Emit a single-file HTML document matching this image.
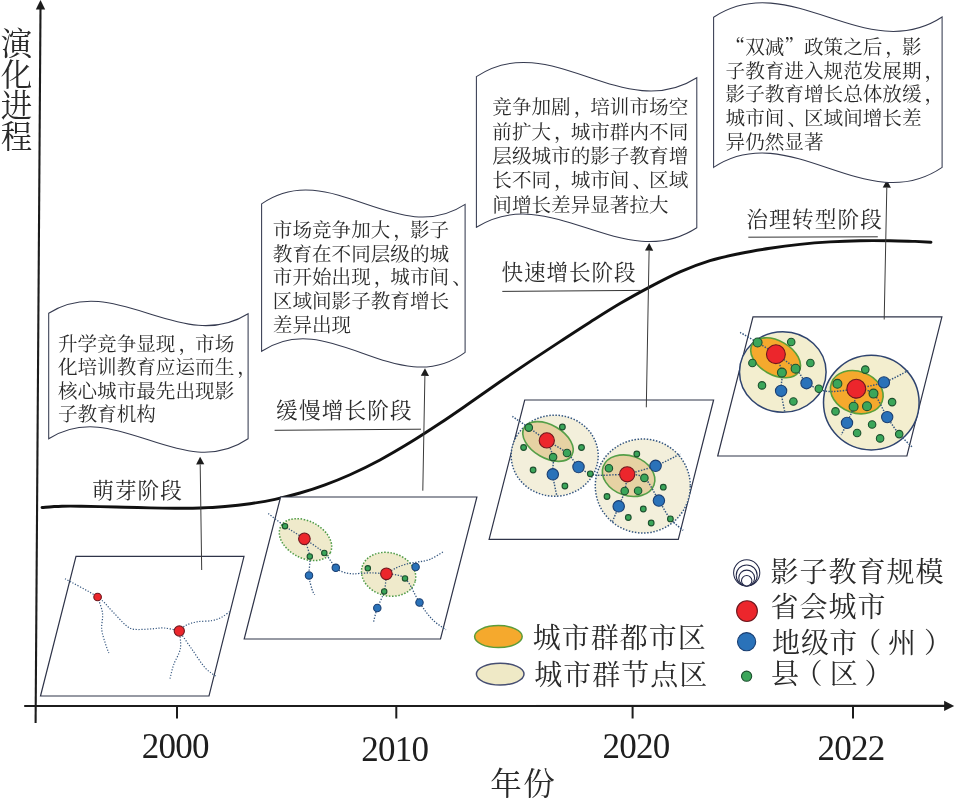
<!DOCTYPE html>
<html lang="zh-CN">
<head>
<meta charset="utf-8">
<title>影子教育演化进程</title>
<style>
html,body{margin:0;padding:0;background:#fff;}
body{width:955px;height:805px;overflow:hidden;}
svg{display:block;}
</style>
</head>
<body>
<svg width="955" height="805" viewBox="0 0 955 805">
<rect width="955" height="805" fill="#fff"/>
<line x1="40.5" y1="8" x2="35.6" y2="723" stroke="#1c1c1c" stroke-width="2.1"/>
<polygon points="40.5,0 35.8,9.5 45.2,9.5" fill="#1c1c1c"/>
<line x1="24.2" y1="706" x2="945" y2="705.9" stroke="#1c1c1c" stroke-width="2.1"/>
<polygon points="954.2,705.9 944.1,700.8 944.1,711" fill="#1c1c1c"/>
<line x1="177" y1="706" x2="177" y2="718.5" stroke="#1c1c1c" stroke-width="2"/>
<line x1="396.3" y1="706" x2="396.3" y2="718.5" stroke="#1c1c1c" stroke-width="2"/>
<line x1="632.6" y1="706" x2="632.6" y2="718.5" stroke="#1c1c1c" stroke-width="2"/>
<line x1="853" y1="706" x2="853" y2="718.5" stroke="#1c1c1c" stroke-width="2"/>
<path d="M42.0,507.5 C43.7,507.4 48.7,506.9 52.0,506.7 C55.3,506.5 57.3,506.3 62.0,506.2 C66.7,506.1 73.7,506.1 80.0,506.2 C86.3,506.3 92.5,506.4 100.0,506.6 C107.5,506.8 116.7,507.0 125.0,507.2 C133.3,507.4 141.7,507.7 150.0,507.9 C158.3,508.1 166.7,508.2 175.0,508.2 C183.3,508.2 191.7,508.3 200.0,508.0 C208.3,507.7 216.7,507.2 225.0,506.5 C233.3,505.8 241.7,504.9 250.0,503.7 C258.3,502.5 266.7,501.1 275.0,499.3 C283.3,497.5 291.7,495.4 300.0,493.0 C308.3,490.6 316.7,487.9 325.0,484.8 C333.3,481.8 340.8,478.8 350.0,474.7 C359.2,470.6 370.0,465.4 380.0,460.0 C390.0,454.6 400.0,448.7 410.0,442.6 C420.0,436.5 430.0,429.9 440.0,423.3 C450.0,416.7 460.0,409.7 470.0,402.8 C480.0,395.9 490.0,388.7 500.0,381.8 C510.0,374.9 520.0,368.1 530.0,361.4 C540.0,354.7 550.0,348.1 560.0,341.6 C570.0,335.1 580.0,328.5 590.0,322.2 C600.0,315.9 610.0,309.5 620.0,303.6 C630.0,297.7 640.0,292.2 650.0,286.9 C660.0,281.6 670.0,276.3 680.0,271.9 C690.0,267.5 700.0,263.8 710.0,260.7 C720.0,257.6 730.0,255.6 740.0,253.5 C750.0,251.4 760.0,249.8 770.0,248.3 C780.0,246.8 790.0,245.5 800.0,244.4 C810.0,243.3 820.0,242.5 830.0,241.9 C840.0,241.3 850.0,240.9 860.0,240.7 C870.0,240.5 880.8,240.6 890.0,240.7 C899.2,240.8 908.2,241.2 915.0,241.4 C921.8,241.7 928.3,242.1 931.0,242.2" fill="none" stroke="#111" stroke-width="2.9" stroke-linecap="round"/>
<polygon points="76.0,556.4 244.0,556.4 209.0,696.0 40.5,696.0" fill="#fff" stroke="#2f3449" stroke-width="1.2"/>
<polygon points="280.6,497.0 476.9,497.0 440.5,639.0 244.2,639.0" fill="#fff" stroke="#2f3449" stroke-width="1.2"/>
<polygon points="524.7,400.0 713.6,400.0 678.3,539.4 489.1,539.4" fill="#fff" stroke="#2f3449" stroke-width="1.2"/>
<polygon points="753.0,316.8 941.9,316.8 906.9,456.0 717.7,456.0" fill="#fff" stroke="#2f3449" stroke-width="1.2"/>
<line x1="201.7" y1="570.0" x2="200.2" y2="464.4" stroke="#3a3a3a" stroke-width="1.0"/>
<polygon points="200.1,456.8 204.3,464.3 196.1,464.5" fill="#1c1c1c"/>
<line x1="422.8" y1="490.7" x2="424.9" y2="375.9" stroke="#3a3a3a" stroke-width="1.0"/>
<polygon points="425.0,368.3 429.0,376.0 420.8,375.8" fill="#1c1c1c"/>
<line x1="646.3" y1="407.3" x2="649.1" y2="250.7" stroke="#3a3a3a" stroke-width="1.0"/>
<polygon points="649.2,243.1 653.2,250.8 645.0,250.6" fill="#1c1c1c"/>
<line x1="884.2" y1="319.5" x2="886.8" y2="187.6" stroke="#3a3a3a" stroke-width="1.0"/>
<polygon points="886.9,180.0 890.9,187.7 882.7,187.5" fill="#1c1c1c"/>
<path d="M48.7,313.2 C115.2,271.6 181.6,355.3 248.1,313.7 L248.1,438.8 C181.6,484.2 115.2,396.2 48.7,438.8 Z" fill="#fff" stroke="#363b50" stroke-width="1.05"/>
<path d="M261.6,203.9 C329.4,156.4 397.3,249.4 465.1,204.4 L465.1,352.3 C397.3,402.3 329.4,305.7 261.6,351.3 Z" fill="#fff" stroke="#363b50" stroke-width="1.05"/>
<path d="M476.4,76.6 C549.9,27.7 623.3,124.9 696.8,77.8 L696.8,227.7 C623.3,275.4 549.9,180.8 476.4,227.3 Z" fill="#fff" stroke="#363b50" stroke-width="1.05"/>
<path d="M713.6,17.2 C789.8,-32.7 865.9,66.9 942.1,17.0 L942.1,167.4 C865.9,219.5 789.8,116.9 713.6,167.4 Z" fill="#fff" stroke="#363b50" stroke-width="1.05"/>
<path d="M65.0,578.8 C70.4,581.8 89.8,591.6 97.6,597.0 C105.4,602.4 107.3,606.3 112.0,611.0 C116.7,615.7 122.1,622.2 125.8,625.2 C129.5,628.2 130.0,628.7 134.0,629.3 C138.0,629.9 145.0,629.2 150.0,629.0 C155.0,628.8 159.1,627.7 164.0,628.0 C168.9,628.3 176.8,630.5 179.3,631.0" fill="none" stroke="#34567f" stroke-width="1.2" stroke-dasharray="1.20 1.65"/>
<path d="M179.3,631.0 C180.4,630.0 183.1,626.8 186.0,625.3 C188.9,623.8 192.7,622.6 197.0,621.8 C201.3,621.0 207.8,621.4 212.0,620.6 C216.2,619.8 219.1,618.5 222.0,617.0 C224.9,615.5 228.3,612.5 229.6,611.6" fill="none" stroke="#34567f" stroke-width="1.2" stroke-dasharray="1.20 1.65"/>
<path d="M97.6,597.0 C98.4,599.7 101.8,607.6 102.5,613.0 C103.2,618.4 101.2,624.3 101.7,629.3 C102.2,634.3 104.0,639.0 105.2,643.0 C106.4,647.0 108.2,651.3 108.8,653.0" fill="none" stroke="#34567f" stroke-width="1.2" stroke-dasharray="1.20 1.65"/>
<path d="M179.3,631.0 C179.5,633.9 181.4,642.9 180.4,648.5 C179.4,654.1 175.3,659.9 173.6,664.9 C171.9,669.9 170.6,676.3 170.0,678.6" fill="none" stroke="#34567f" stroke-width="1.2" stroke-dasharray="1.20 1.65"/>
<path d="M179.3,631.0 C181.3,633.9 187.1,642.4 191.4,648.5 C195.7,654.6 200.9,663.0 205.0,667.6 C209.1,672.2 214.2,674.9 216.0,676.4" fill="none" stroke="#34567f" stroke-width="1.2" stroke-dasharray="1.20 1.65"/>
<circle cx="97.6" cy="597.0" r="3.8" fill="#ec262c" stroke="#6e171d" stroke-width="1.1"/>
<circle cx="179.3" cy="631.0" r="5.1" fill="#ec262c" stroke="#6e171d" stroke-width="1.1"/>
<ellipse cx="305.5" cy="539.6" rx="28" ry="18.5" transform="rotate(28 305.5 539.6)" fill="#efeacb" stroke="#4c9a45" stroke-width="1.5" stroke-dasharray="1.5 1.6"/>
<ellipse cx="388.6" cy="574.3" rx="27.5" ry="21.5" transform="rotate(15 388.6 574.3)" fill="#efeacb" stroke="#4c9a45" stroke-width="1.5" stroke-dasharray="1.5 1.6"/>
<path d="M268.3,513.6 C271.1,515.7 279.0,522.0 285.0,526.2 C291.0,530.4 297.8,534.3 304.4,538.8 C310.9,543.3 319.1,548.2 324.3,553.0 C329.5,557.8 332.6,564.6 335.8,567.8 C339.1,571.0 341.1,571.3 343.8,572.3 C346.5,573.3 349.3,573.6 352.1,573.8 C354.9,574.0 357.2,573.5 360.5,573.4 C363.8,573.2 367.7,572.8 372.0,572.9 C376.3,573.0 384.0,573.6 386.4,573.8" fill="none" stroke="#34567f" stroke-width="1.3" stroke-dasharray="1.30 1.55"/>
<path d="M386.4,573.8 C388.0,572.8 392.6,569.6 396.0,568.0 C399.4,566.4 402.9,565.0 406.6,564.0 C410.3,563.0 414.1,562.8 418.0,562.0 C421.9,561.2 425.8,561.0 430.0,559.3 C434.2,557.6 441.0,553.1 443.2,551.9" fill="none" stroke="#34567f" stroke-width="1.3" stroke-dasharray="1.30 1.55"/>
<path d="M304.4,538.8 C305.3,541.8 309.0,550.4 309.8,556.5 C310.6,562.6 308.6,569.9 309.0,575.4 C309.4,580.9 311.1,586.1 312.0,589.3 C312.9,592.5 314.2,593.9 314.7,594.8" fill="none" stroke="#34567f" stroke-width="1.3" stroke-dasharray="1.30 1.55"/>
<path d="M386.4,573.8 C386.0,576.8 385.7,585.8 384.2,591.5 C382.7,597.2 379.1,602.9 377.3,608.0 C375.5,613.1 374.1,619.8 373.5,622.2" fill="none" stroke="#34567f" stroke-width="1.3" stroke-dasharray="1.30 1.55"/>
<path d="M386.4,573.8 C389.5,574.6 399.5,573.6 405.0,578.4 C410.5,583.2 414.9,595.7 419.5,602.5 C424.1,609.3 427.9,614.9 432.3,619.4 C436.7,623.9 443.7,628.1 446.0,629.8" fill="none" stroke="#34567f" stroke-width="1.3" stroke-dasharray="1.30 1.55"/>
<circle cx="285.0" cy="526.2" r="2.7" fill="#3ba65a" stroke="#1d502e" stroke-width="1.1"/>
<circle cx="309.8" cy="556.5" r="2.7" fill="#3ba65a" stroke="#1d502e" stroke-width="1.1"/>
<circle cx="324.3" cy="553.0" r="2.7" fill="#3ba65a" stroke="#1d502e" stroke-width="1.1"/>
<circle cx="367.8" cy="568.3" r="2.7" fill="#3ba65a" stroke="#1d502e" stroke-width="1.1"/>
<circle cx="405.0" cy="578.4" r="2.7" fill="#3ba65a" stroke="#1d502e" stroke-width="1.1"/>
<circle cx="384.2" cy="591.5" r="2.7" fill="#3ba65a" stroke="#1d502e" stroke-width="1.1"/>
<circle cx="309.0" cy="575.4" r="3.7" fill="#2a72b9" stroke="#1b3f72" stroke-width="1.1"/>
<circle cx="335.8" cy="567.8" r="3.7" fill="#2a72b9" stroke="#1b3f72" stroke-width="1.1"/>
<circle cx="415.6" cy="567.0" r="3.7" fill="#2a72b9" stroke="#1b3f72" stroke-width="1.1"/>
<circle cx="419.5" cy="602.5" r="3.7" fill="#2a72b9" stroke="#1b3f72" stroke-width="1.1"/>
<circle cx="377.3" cy="608.0" r="3.7" fill="#2a72b9" stroke="#1b3f72" stroke-width="1.1"/>
<circle cx="304.4" cy="538.8" r="5.8" fill="#ec262c" stroke="#6e171d" stroke-width="1.1"/>
<circle cx="386.4" cy="573.8" r="5.8" fill="#ec262c" stroke="#6e171d" stroke-width="1.1"/>
<ellipse cx="554.7" cy="455.7" rx="43.5" ry="40.5" fill="#f3efdb" stroke="#34567f" stroke-width="1.5" stroke-dasharray="1.5 1.6"/>
<ellipse cx="642.8" cy="486" rx="47.5" ry="47" fill="#f3efdb" stroke="#34567f" stroke-width="1.5" stroke-dasharray="1.5 1.6"/>
<ellipse cx="548" cy="441.5" rx="27.5" ry="16.5" transform="rotate(30 548 441.5)" fill="#e6d2a3" stroke="#559f48" stroke-width="1.6"/>
<ellipse cx="628.6" cy="475.7" rx="27" ry="19.8" transform="rotate(20 628.6 475.7)" fill="#e6d2a3" stroke="#559f48" stroke-width="1.6"/>
<path d="M512.4,416.4 C515.1,418.3 523.1,423.6 528.8,427.6 C534.5,431.6 540.4,436.2 546.8,440.4 C553.2,444.6 561.7,448.6 567.0,453.0 C572.3,457.4 574.6,463.5 578.5,467.0 C582.4,470.5 586.7,472.4 590.3,473.8 C593.9,475.2 596.4,475.1 600.0,475.3 C603.6,475.5 607.5,475.1 612.0,474.9 C616.5,474.7 624.7,474.4 627.2,474.3" fill="none" stroke="#34567f" stroke-width="1.45" stroke-dasharray="1.45 1.40"/>
<path d="M627.2,474.3 C631.9,472.9 646.7,469.2 655.6,465.8 C664.5,462.4 676.4,455.8 680.5,453.8" fill="none" stroke="#34567f" stroke-width="1.45" stroke-dasharray="1.45 1.40"/>
<path d="M546.8,440.4 C547.8,443.2 552.1,451.5 553.1,457.1 C554.1,462.8 552.2,467.8 552.8,474.3 C553.4,480.8 556.2,492.6 556.9,496.2" fill="none" stroke="#34567f" stroke-width="1.45" stroke-dasharray="1.45 1.40"/>
<path d="M627.2,474.3 C626.8,477.1 626.1,485.7 624.7,491.0 C623.3,496.3 620.8,501.1 618.7,506.3 C616.6,511.5 613.3,519.6 612.2,522.2" fill="none" stroke="#34567f" stroke-width="1.45" stroke-dasharray="1.45 1.40"/>
<path d="M627.2,474.3 C630.1,474.9 639.1,473.5 644.4,477.9 C649.7,482.3 654.6,493.8 658.9,500.6 C663.2,507.4 666.3,513.9 670.4,518.9 C674.5,523.9 681.1,528.5 683.2,530.4" fill="none" stroke="#34567f" stroke-width="1.45" stroke-dasharray="1.45 1.40"/>
<circle cx="528.8" cy="427.6" r="3.75" fill="#3ba65a" stroke="#1d502e" stroke-width="1.1"/>
<circle cx="553.1" cy="457.1" r="3.75" fill="#3ba65a" stroke="#1d502e" stroke-width="1.1"/>
<circle cx="567.0" cy="453.0" r="3.75" fill="#3ba65a" stroke="#1d502e" stroke-width="1.1"/>
<circle cx="608.9" cy="468.3" r="3.75" fill="#3ba65a" stroke="#1d502e" stroke-width="1.1"/>
<circle cx="644.4" cy="477.9" r="3.75" fill="#3ba65a" stroke="#1d502e" stroke-width="1.1"/>
<circle cx="624.7" cy="491.0" r="3.75" fill="#3ba65a" stroke="#1d502e" stroke-width="1.1"/>
<circle cx="638.1" cy="490.7" r="3.75" fill="#3ba65a" stroke="#1d502e" stroke-width="1.1"/>
<circle cx="562.4" cy="427.0" r="2.85" fill="#3ba65a" stroke="#1d502e" stroke-width="1.1"/>
<circle cx="523.6" cy="447.5" r="2.85" fill="#3ba65a" stroke="#1d502e" stroke-width="1.1"/>
<circle cx="581.5" cy="447.5" r="2.85" fill="#3ba65a" stroke="#1d502e" stroke-width="1.1"/>
<circle cx="533.1" cy="470.0" r="2.85" fill="#3ba65a" stroke="#1d502e" stroke-width="1.1"/>
<circle cx="564.9" cy="486.0" r="2.85" fill="#3ba65a" stroke="#1d502e" stroke-width="1.1"/>
<circle cx="590.3" cy="473.8" r="2.85" fill="#3ba65a" stroke="#1d502e" stroke-width="1.1"/>
<circle cx="636.8" cy="454.0" r="2.85" fill="#3ba65a" stroke="#1d502e" stroke-width="1.1"/>
<circle cx="663.3" cy="487.2" r="2.85" fill="#3ba65a" stroke="#1d502e" stroke-width="1.1"/>
<circle cx="607.0" cy="496.5" r="2.85" fill="#3ba65a" stroke="#1d502e" stroke-width="1.1"/>
<circle cx="643.3" cy="509.0" r="2.85" fill="#3ba65a" stroke="#1d502e" stroke-width="1.1"/>
<circle cx="628.3" cy="517.5" r="2.85" fill="#3ba65a" stroke="#1d502e" stroke-width="1.1"/>
<circle cx="651.2" cy="523.0" r="2.85" fill="#3ba65a" stroke="#1d502e" stroke-width="1.1"/>
<circle cx="670.4" cy="518.9" r="2.85" fill="#3ba65a" stroke="#1d502e" stroke-width="1.1"/>
<circle cx="552.8" cy="474.3" r="5.7" fill="#2a72b9" stroke="#1b3f72" stroke-width="1.1"/>
<circle cx="578.5" cy="467.0" r="5.7" fill="#2a72b9" stroke="#1b3f72" stroke-width="1.1"/>
<circle cx="655.6" cy="465.8" r="5.7" fill="#2a72b9" stroke="#1b3f72" stroke-width="1.1"/>
<circle cx="658.9" cy="500.6" r="5.7" fill="#2a72b9" stroke="#1b3f72" stroke-width="1.1"/>
<circle cx="618.7" cy="506.3" r="5.7" fill="#2a72b9" stroke="#1b3f72" stroke-width="1.1"/>
<circle cx="546.8" cy="440.4" r="7.6" fill="#ec262c" stroke="#6e171d" stroke-width="1.1"/>
<circle cx="627.2" cy="474.3" r="7.6" fill="#ec262c" stroke="#6e171d" stroke-width="1.1"/>
<ellipse cx="782.8" cy="372" rx="43.3" ry="40.3" fill="#f3eecf" stroke="#2f446f" stroke-width="1.5"/>
<ellipse cx="871.3" cy="402.6" rx="47.8" ry="47.3" fill="#f3eecf" stroke="#2f446f" stroke-width="1.5"/>
<ellipse cx="775.6" cy="357.8" rx="27" ry="17" transform="rotate(30 775.6 357.8)" fill="#f5a92d" stroke="#5a9f3a" stroke-width="1.6"/>
<ellipse cx="856.8" cy="392.2" rx="27" ry="20.8" transform="rotate(20 856.8 392.2)" fill="#f5a92d" stroke="#5a9f3a" stroke-width="1.6"/>
<path d="M740.1,332.4 C743.0,334.1 751.6,338.9 757.6,342.5 C763.6,346.1 769.6,349.8 775.9,354.2 C782.2,358.6 790.5,363.9 795.6,368.7 C800.7,373.5 802.6,379.9 806.5,383.2 C810.4,386.5 815.5,387.3 818.8,388.7 C822.1,390.1 823.3,390.9 826.5,391.3 C829.7,391.7 833.0,391.6 838.0,391.2 C843.0,390.8 853.2,389.1 856.3,388.7" fill="none" stroke="#34567f" stroke-width="1.45" stroke-dasharray="1.45 1.40"/>
<path d="M856.3,388.7 C860.9,387.6 875.2,385.4 883.9,382.4 C892.5,379.4 904.2,372.6 908.2,370.6" fill="none" stroke="#34567f" stroke-width="1.45" stroke-dasharray="1.45 1.40"/>
<path d="M775.9,354.2 C776.9,357.3 781.0,366.5 781.9,372.6 C782.8,378.7 780.6,384.4 781.1,390.9 C781.6,397.4 784.1,408.2 784.7,411.6" fill="none" stroke="#34567f" stroke-width="1.45" stroke-dasharray="1.45 1.40"/>
<path d="M856.3,388.7 C855.8,391.7 855.1,401.0 853.6,406.7 C852.1,412.4 849.0,418.2 847.0,422.9 C845.0,427.6 842.2,432.9 841.3,434.9" fill="none" stroke="#34567f" stroke-width="1.45" stroke-dasharray="1.45 1.40"/>
<path d="M856.3,388.7 C859.2,389.5 868.4,388.9 873.5,393.6 C878.6,398.3 882.9,410.4 887.2,417.1 C891.5,423.9 895.0,429.1 899.2,434.1 C903.4,439.1 910.1,445.0 912.3,447.2" fill="none" stroke="#34567f" stroke-width="1.45" stroke-dasharray="1.45 1.40"/>
<circle cx="757.6" cy="342.5" r="4.45" fill="#3ba65a" stroke="#1d502e" stroke-width="1.1"/>
<circle cx="781.9" cy="372.6" r="4.45" fill="#3ba65a" stroke="#1d502e" stroke-width="1.1"/>
<circle cx="795.6" cy="368.7" r="4.45" fill="#3ba65a" stroke="#1d502e" stroke-width="1.1"/>
<circle cx="837.4" cy="383.8" r="4.45" fill="#3ba65a" stroke="#1d502e" stroke-width="1.1"/>
<circle cx="873.5" cy="393.6" r="4.45" fill="#3ba65a" stroke="#1d502e" stroke-width="1.1"/>
<circle cx="853.6" cy="406.7" r="4.45" fill="#3ba65a" stroke="#1d502e" stroke-width="1.1"/>
<circle cx="867.0" cy="406.2" r="4.45" fill="#3ba65a" stroke="#1d502e" stroke-width="1.1"/>
<circle cx="791.2" cy="342.0" r="3.75" fill="#3ba65a" stroke="#1d502e" stroke-width="1.1"/>
<circle cx="752.4" cy="363.0" r="3.75" fill="#3ba65a" stroke="#1d502e" stroke-width="1.1"/>
<circle cx="810.4" cy="363.0" r="3.75" fill="#3ba65a" stroke="#1d502e" stroke-width="1.1"/>
<circle cx="762.0" cy="385.4" r="3.75" fill="#3ba65a" stroke="#1d502e" stroke-width="1.1"/>
<circle cx="793.4" cy="401.5" r="3.75" fill="#3ba65a" stroke="#1d502e" stroke-width="1.1"/>
<circle cx="818.8" cy="388.7" r="3.75" fill="#3ba65a" stroke="#1d502e" stroke-width="1.1"/>
<circle cx="865.3" cy="369.6" r="3.75" fill="#3ba65a" stroke="#1d502e" stroke-width="1.1"/>
<circle cx="892.1" cy="402.1" r="3.75" fill="#3ba65a" stroke="#1d502e" stroke-width="1.1"/>
<circle cx="835.5" cy="411.4" r="3.75" fill="#3ba65a" stroke="#1d502e" stroke-width="1.1"/>
<circle cx="872.1" cy="424.5" r="3.75" fill="#3ba65a" stroke="#1d502e" stroke-width="1.1"/>
<circle cx="857.1" cy="433.0" r="3.75" fill="#3ba65a" stroke="#1d502e" stroke-width="1.1"/>
<circle cx="880.1" cy="438.4" r="3.75" fill="#3ba65a" stroke="#1d502e" stroke-width="1.1"/>
<circle cx="899.2" cy="434.1" r="3.75" fill="#3ba65a" stroke="#1d502e" stroke-width="1.1"/>
<circle cx="781.1" cy="390.9" r="5.65" fill="#2a72b9" stroke="#1b3f72" stroke-width="1.1"/>
<circle cx="806.5" cy="383.2" r="5.65" fill="#2a72b9" stroke="#1b3f72" stroke-width="1.1"/>
<circle cx="883.9" cy="382.4" r="5.65" fill="#2a72b9" stroke="#1b3f72" stroke-width="1.1"/>
<circle cx="887.2" cy="417.1" r="5.65" fill="#2a72b9" stroke="#1b3f72" stroke-width="1.1"/>
<circle cx="847.0" cy="422.9" r="5.65" fill="#2a72b9" stroke="#1b3f72" stroke-width="1.1"/>
<circle cx="775.9" cy="354.2" r="9.45" fill="#ec262c" stroke="#6e171d" stroke-width="1.1"/>
<circle cx="856.3" cy="388.7" r="9.45" fill="#ec262c" stroke="#6e171d" stroke-width="1.1"/>
<ellipse cx="498.4" cy="636.6" rx="23.8" ry="11" fill="#f5a92d" stroke="#5c9c3a" stroke-width="1.5"/>
<ellipse cx="500.2" cy="674.1" rx="23.8" ry="10.9" fill="#efe9c6" stroke="#474f72" stroke-width="1.5"/>
<circle cx="746.7" cy="572.8" r="13.1" fill="#fff" stroke="#232848" stroke-width="1.05"/>
<circle cx="746.7" cy="575.4" r="10.5" fill="#fff" stroke="#232848" stroke-width="1.05"/>
<circle cx="746.7" cy="578.0" r="7.9" fill="#fff" stroke="#232848" stroke-width="1.05"/>
<circle cx="746.7" cy="580.7" r="5.2" fill="#fff" stroke="#232848" stroke-width="1.05"/>
<circle cx="747.0" cy="611.1" r="10.4" fill="#ec262c" stroke="#6e171d" stroke-width="1.1"/>
<circle cx="746.6" cy="641.7" r="9.1" fill="#2a72b9" stroke="#1b3f72" stroke-width="1.1"/>
<circle cx="746.6" cy="676.2" r="5.1" fill="#3ba65a" stroke="#1d502e" stroke-width="1.1"/>
<g font-family='"Noto Serif CJK SC","Liberation Serif",serif' fill="#2a2a2a">
<text x="57.9" y="350.9" font-size="19.6" font-weight="400">升学竞争显现<tspan dx="3">，</tspan><tspan dx="-3">市</tspan>场</text>
<text x="57.9" y="374.3" font-size="19.6" font-weight="400">化培训教育应运而生<tspan dx="3">，</tspan></text>
<text x="57.9" y="397.7" font-size="19.6" font-weight="400">核心城市最先出现影</text>
<text x="57.9" y="421.1" font-size="19.6" font-weight="400">子教育机构</text>
<text x="272.8" y="236.7" font-size="19.6" font-weight="400">市场竞争加大<tspan dx="3">，</tspan><tspan dx="-3">影</tspan>子</text>
<text x="272.8" y="260.5" font-size="19.6" font-weight="400">教育在不同层级的城</text>
<text x="272.8" y="284.4" font-size="19.6" font-weight="400">市开始出现<tspan dx="3">，</tspan><tspan dx="-3">城</tspan>市间<tspan dx="3">、</tspan></text>
<text x="272.8" y="308.2" font-size="19.6" font-weight="400">区域间影子教育增长</text>
<text x="272.8" y="332.1" font-size="19.6" font-weight="400">差异出现</text>
<text x="492.3" y="114.1" font-size="19.6" font-weight="400">竞争加剧<tspan dx="3">，</tspan><tspan dx="-3">培</tspan>训市场空</text>
<text x="492.3" y="138.5" font-size="19.6" font-weight="400">前扩大<tspan dx="3">，</tspan><tspan dx="-3">城</tspan>市群内不同</text>
<text x="492.3" y="163.0" font-size="19.6" font-weight="400">层级城市的影子教育增</text>
<text x="492.3" y="187.4" font-size="19.6" font-weight="400">长不同<tspan dx="3">，</tspan><tspan dx="-3">城</tspan>市间<tspan dx="3">、</tspan><tspan dx="-3">区</tspan>域</text>
<text x="492.3" y="211.9" font-size="19.6" font-weight="400">间增长差异显著拉大</text>
<text x="725.6" y="53.6" font-size="19.6" font-weight="400">“双减”政策之后<tspan dx="3">，</tspan><tspan dx="-3">影</tspan></text>
<text x="725.6" y="77.5" font-size="19.6" font-weight="400">子教育进入规范发展期<tspan dx="3">，</tspan></text>
<text x="725.6" y="101.4" font-size="19.6" font-weight="400">影子教育增长总体放缓<tspan dx="3">，</tspan></text>
<text x="725.6" y="125.3" font-size="19.6" font-weight="400">城市间<tspan dx="3">、</tspan><tspan dx="-3">区</tspan>域间增长差</text>
<text x="725.6" y="149.2" font-size="19.6" font-weight="400">异仍然显著</text>
<text x="92.2" y="498.1" font-size="21.6" font-weight="400" letter-spacing="1.1">萌芽阶段</text>
<text x="276.1" y="417.9" font-size="21.6" font-weight="400" letter-spacing="1.2">缓慢增长阶段</text>
<text x="501.6" y="280.2" font-size="21.6" font-weight="400" letter-spacing="0.9">快速增长阶段</text>
<text x="746.3" y="227.4" font-size="21.6" font-weight="400" letter-spacing="1.2">治理转型阶段</text>
<text x="532.8" y="648.1" font-size="28" font-weight="400" letter-spacing="1.0">城市群都市区</text>
<text x="534.2" y="684.7" font-size="28" font-weight="400" letter-spacing="1.0">城市群节点区</text>
<text x="770.5" y="582.1" font-size="28" font-weight="400" letter-spacing="1.0">影子教育规模</text>
<text x="770.5" y="616.8" font-size="28" font-weight="400" letter-spacing="1.0">省会城市</text>
<text x="772.0 801.1 829.2 853.3 888.0 924.1" y="653.1" font-size="28">地级市（州）</text>
<text x="771.0 794.5 829.8 864.4" y="684.3" font-size="28">县（区）</text>
<text x="0.75 0.75 0.75 0.75" y="54.8 85.8 116.8 147.8" font-size="31.5">演化进程</text>
<text x="490.2" y="794.5" font-size="31.5" font-weight="400" letter-spacing="1.6">年份</text>
</g>
<g font-family='"Liberation Serif",serif' fill="#1e1e1e" font-size="35" letter-spacing="-0.8">
<text x="141.8" y="757.9">2000</text>
<text x="361.3" y="761">2010</text>
<text x="602.6" y="757.9">2020</text>
<text x="817.6" y="760.1">2022</text>
</g>
<line x1="274.6" y1="430.3" x2="421" y2="429.2" stroke="#333" stroke-width="1"/>
<line x1="502.3" y1="291.4" x2="640.5" y2="290.4" stroke="#333" stroke-width="1"/>
<line x1="748.3" y1="237.2" x2="877.8" y2="236.8" stroke="#333" stroke-width="1"/>
</svg>
</body>
</html>
